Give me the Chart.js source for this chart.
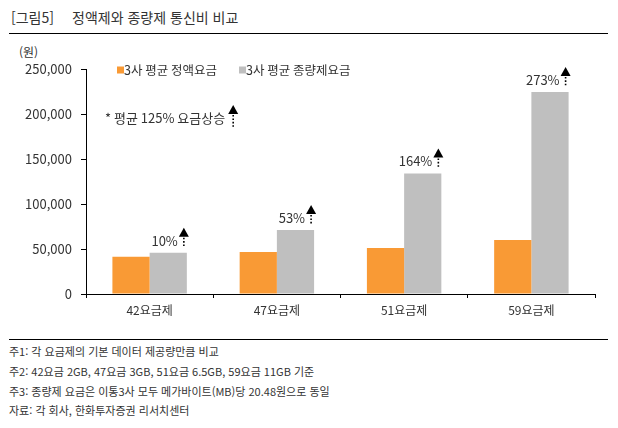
<!DOCTYPE html>
<html lang="ko">
<head>
<meta charset="utf-8">
<script src="https://cdn.jsdelivr.net/npm/chart.js@4/dist/chart.umd.min.js"></script>
<style>
  html, body { margin: 0; padding: 0; background: #fff; }
  body { width: 618px; height: 428px; position: relative; overflow: hidden;
         font-family: "Noto Sans CJK KR", "Noto Sans", sans-serif; color: #333; }
  .title { position: absolute; top: 6px; font-size: 14px; line-height: 22px; color: #333; }
  .rule { position: absolute; left: 9px; width: 599px; height: 0; border-top: 1px solid #000; }
  .unit { position: absolute; left: 19px; top: 43px; font-size: 12px; line-height: 18px; }
  .notes { position: absolute; left: 9px; top: 342px; font-size: 11px; line-height: 19.8px; }
  #wrap { position: absolute; left: 0; top: 40px; width: 618px; height: 290px; }
</style>
</head>
<body>
<div class="title" style="left:11px">[그림5]</div>
<div class="title" style="left:72px">정액제와 종량제 통신비 비교</div>
<div class="rule" style="top:33px"></div>
<div class="unit">(원)</div>
<div id="wrap"><canvas id="chart"></canvas></div>
<div class="rule" style="top:339px"></div>
<div class="notes">
  <div>주1: 각 요금제의 기본 데이터 제공량만큼 비교</div>
  <div>주2: 42요금 2GB, 47요금 3GB, 51요금 6.5GB, 59요금 11GB 기준</div>
  <div>주3: 종량제 요금은 이통3사 모두 메가바이트(MB)당 20.48원으로 동일</div>
  <div>자료: 각 회사, 한화투자증권 리서치센터</div>
</div>
<script>
const categories = ['42요금제', '47요금제', '51요금제', '59요금제']
const flatRate = [41400, 46700, 51100, 60000]
const meteredRate = [45900, 71100, 134000, 224500]
const increaseLabels = ['10%', '53%', '164%', '273%']
const seriesNames = ['3사 평균 정액요금', '3사 평균 종량제요금']
const averageNote = '* 평균 125% 요금상승'

const ORANGE = '#F99A35'
const GREY = '#BFBFBF'
const FONT = '"Noto Sans CJK KR", "Noto Sans", sans-serif'

function drawArrow(ctx, x, apexY, bottomY) {
  ctx.save()
  ctx.fillStyle = '#000'
  ctx.beginPath()
  ctx.moveTo(x, apexY)
  ctx.lineTo(x + 5, apexY + 9)
  ctx.lineTo(x - 5, apexY + 9)
  ctx.closePath()
  ctx.fill()
  ctx.strokeStyle = '#000'
  ctx.lineWidth = 1.6
  ctx.setLineDash([1.6, 1.8])
  ctx.beginPath()
  ctx.moveTo(x, apexY + 10)
  ctx.lineTo(x, bottomY)
  ctx.stroke()
  ctx.restore()
}

const annotations = {
  id: 'annotations',
  afterDatasetsDraw(chart) {
    const ctx = chart.ctx
    const area = chart.chartArea
    const bars = chart.getDatasetMeta(1).data

    ctx.save()
    ctx.font = '13px ' + FONT
    ctx.fillStyle = '#333'
    ctx.textBaseline = 'middle'
    bars.forEach((bar, i) => {
      const ax = bar.x + bar.width / 2 - 3
      drawArrow(ctx, ax, bar.y - 25, bar.y - 5)
      ctx.textAlign = 'right'
      ctx.fillText(increaseLabels[i], ax - 6, bar.y - 12)
    })

    // legend
    ctx.font = '12.5px ' + FONT
    ctx.textAlign = 'left'
    const legendY = area.top + 1
    let lx = area.left + 31
    chart.data.datasets.forEach((ds, i) => {
      ctx.fillStyle = ds.backgroundColor
      ctx.fillRect(lx, legendY - 3.5, 7, 7)
      ctx.fillStyle = '#333'
      ctx.fillText(ds.label, lx + 7, legendY)
      lx += 122
    })

    // average note
    ctx.font = '13px ' + FONT
    const noteX = area.left + 19
    ctx.fillText(averageNote, noteX, area.top + 49)
    const noteEnd = noteX + ctx.measureText(averageNote).width
    drawArrow(ctx, noteEnd + 8, area.top + 36, area.top + 58)
    ctx.restore()
  }
}

new Chart(document.getElementById('chart'), {
  type: 'bar',
  data: {
    labels: categories,
    datasets: [
      { label: seriesNames[0], data: flatRate, backgroundColor: ORANGE },
      { label: seriesNames[1], data: meteredRate, backgroundColor: GREY }
    ]
  },
  options: {
    responsive: true,
    maintainAspectRatio: false,
    animation: false,
    categoryPercentage: 0.585,
    barPercentage: 1,
    layout: {
      padding: { top: 29, right: 23, left: 0, bottom: 0 }
    },
    plugins: {
      legend: { display: false },
      tooltip: { enabled: false }
    },
    scales: {
      x: {
        grid: {
          offset: true,
          drawOnChartArea: false,
          tickLength: 4,
          color: '#000'
        },
        border: { color: '#000', width: 1 },
        ticks: {
          padding: 5,
          color: '#333',
          font: { family: FONT, size: 12 }
        },
        afterFit: scale => { scale.height = 36 }
      },
      y: {
        min: 0,
        max: 250000,
        grid: {
          drawOnChartArea: false,
          tickLength: 5,
          color: '#000'
        },
        border: { color: '#000', width: 1 },
        ticks: {
          stepSize: 50000,
          padding: 9,
          color: '#333',
          font: { family: FONT, size: 13 },
          callback: value => value.toLocaleString('en-US')
        },
        afterFit: scale => { scale.width = 86 }
      }
    }
  },
  plugins: [annotations]
})
</script>
</body>
</html>
